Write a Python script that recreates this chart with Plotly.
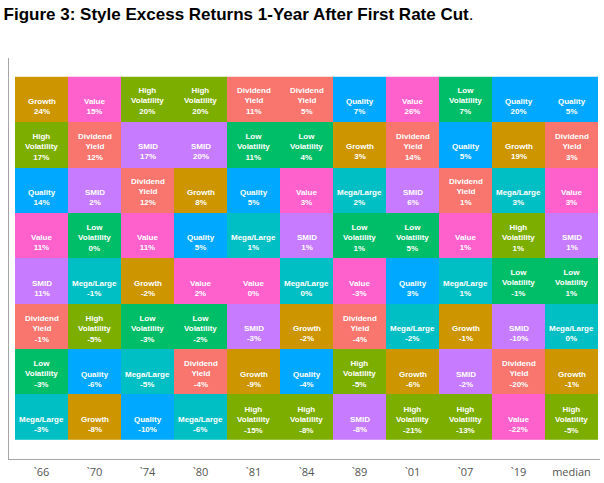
import plotly.graph_objects as go

# Years (columns) and the style ranking within each year (rows, best to worst)
years = ["`66", "`70", "`74", "`80", "`81", "`84", "`89", "`01", "`07", "`19", "median"]

styles_by_year = [
    ["Growth", "High Volatility", "Quality", "Value", "SMID", "Dividend Yield", "Low Volatility", "Mega/Large"],
    ["Value", "Dividend Yield", "SMID", "Low Volatility", "Mega/Large", "High Volatility", "Quality", "Growth"],
    ["High Volatility", "SMID", "Dividend Yield", "Value", "Growth", "Low Volatility", "Mega/Large", "Quality"],
    ["High Volatility", "SMID", "Growth", "Quality", "Value", "Low Volatility", "Dividend Yield", "Mega/Large"],
    ["Dividend Yield", "Low Volatility", "Quality", "Mega/Large", "Value", "SMID", "Growth", "High Volatility"],
    ["Dividend Yield", "Low Volatility", "Value", "SMID", "Mega/Large", "Growth", "Quality", "High Volatility"],
    ["Quality", "Growth", "Mega/Large", "Low Volatility", "Value", "Dividend Yield", "High Volatility", "SMID"],
    ["Value", "Dividend Yield", "SMID", "Low Volatility", "Quality", "Mega/Large", "Growth", "High Volatility"],
    ["Low Volatility", "Quality", "Dividend Yield", "Value", "Mega/Large", "Growth", "SMID", "High Volatility"],
    ["Quality", "Growth", "Mega/Large", "High Volatility", "Low Volatility", "SMID", "Dividend Yield", "Value"],
    ["Quality", "Dividend Yield", "Value", "SMID", "Low Volatility", "Mega/Large", "Growth", "High Volatility"],
]

returns_by_year = [
    [24, 17, 14, 11, 11, -1, -3, -3],
    [15, 12, 2, 0, -1, -5, -6, -8],
    [20, 17, 12, 11, -2, -3, -5, -10],
    [20, 20, 8, 5, 2, -2, -4, -6],
    [11, 11, 5, 1, 0, -3, -9, -15],
    [5, 4, 3, 1, 0, -2, -4, -8],
    [7, 3, 2, 1, -3, -4, -5, -8],
    [26, 14, 6, 5, 3, -2, -6, -21],
    [7, 5, 1, 1, 1, -1, -2, -13],
    [20, 19, 3, 1, -1, -10, -20, -22],
    [5, 3, 3, 1, 1, 0, -1, -5],
]

style_names = ["Dividend Yield", "Growth", "High Volatility", "Low Volatility",
               "Mega/Large", "Quality", "SMID", "Value"]
style_colors = ["#F8766D", "#CD9600", "#7CAE00", "#00BE67",
                "#00BFC4", "#00A9FF", "#C77CFF", "#FF61CC"]

n_cols = len(years)
n_rows = len(styles_by_year[0])

# Stepwise colour scale: one flat band per style
n_styles = len(style_names)
colorscale = []
for i, c in enumerate(style_colors):
    colorscale.append([i / n_styles, c])
    colorscale.append([(i + 1) / n_styles, c])

# z[row][col] = style index; rank 1 at the top
z = [[style_names.index(styles_by_year[c][r]) for c in range(n_cols)] for r in range(n_rows)]
row_pos = list(range(1, n_rows + 1))

fig = go.Figure(go.Heatmap(
    x=list(range(n_cols)),
    y=row_pos,
    z=z,
    colorscale=colorscale,
    zmin=-0.5,
    zmax=n_styles - 0.5,
    showscale=False,
    xgap=0,
    ygap=0,
    hoverinfo="skip",
))

# One label per tile: style name (wrapped when two words) followed by the return
annotations = []
label_font = dict(family="Liberation Sans, Arial, sans-serif", size=8, color="white")
for c in range(n_cols):
    for r in range(n_rows):
        name = styles_by_year[c][r]
        value = "%d%%" % returns_by_year[c][r]
        if name in ("High Volatility", "Low Volatility", "Dividend Yield"):
            text = "<b>" + name.replace(" ", "<br>") + "<br>" + value + "</b>"
            shift = -2
        else:
            text = "<b>" + name + "<br>" + value + "</b>"
            shift = -7
        annotations.append(dict(
            x=c, y=row_pos[r], xref="x", yref="y", text=text,
            showarrow=False, font=label_font, yshift=shift,
        ))

col_px = 53.0
row_px = 46.0
fig.update_layout(
    width=604,
    height=483,
    margin=dict(l=9, r=4, t=58, b=19),
    paper_bgcolor="white",
    plot_bgcolor="white",
    title=dict(
        text="<b>Figure 3: Style Excess Returns 1-Year After First Rate Cut</b>.",
        font=dict(family="Liberation Sans, Arial, sans-serif", size=17, color="black"),
        x=0.006, xanchor="left", xref="container",
        y=1 - 14 / 483, yanchor="middle", yref="container",
    ),
    annotations=annotations,
    xaxis=dict(
        range=[-0.5 - 6 / col_px, n_cols - 0.5 + 2 / col_px],
        tickmode="array",
        tickvals=list(range(n_cols)),
        ticktext=years,
        showgrid=False,
        zeroline=False,
        showline=True,
        linecolor="#a6a6a6",
        linewidth=1,
        ticks="",
        ticklabelstandoff=3,
        tickfont=dict(family="Open Sans, sans-serif", size=11, color="#555555"),
        fixedrange=True,
    ),
    yaxis=dict(
        range=[n_rows + 0.5 + 19 / row_px, 0.5 - 19 / row_px],
        showticklabels=False,
        showgrid=False,
        zeroline=False,
        showline=True,
        linecolor="#a6a6a6",
        linewidth=1,
        ticks="",
        fixedrange=True,
    ),
)

fig.write_html("out.html")
